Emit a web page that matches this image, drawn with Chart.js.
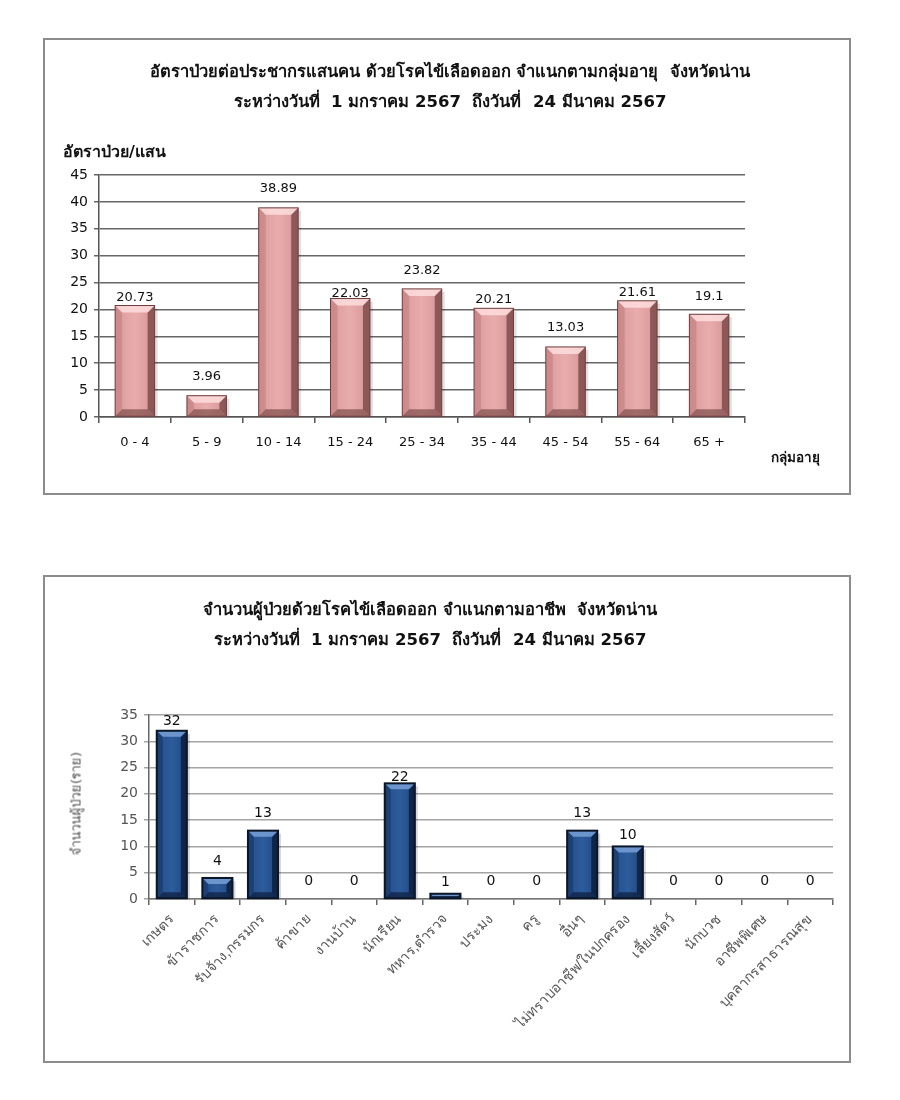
<!DOCTYPE html>
<html><head><meta charset="utf-8">
<script src="https://cdn.jsdelivr.net/npm/chart.js@4.4.1/dist/chart.umd.min.js"></script>
<style>
html,body{margin:0;padding:0;background:#fff;}
body{width:900px;height:1100px;position:relative;overflow:hidden;font-family:Tahoma,"DejaVu Sans","Noto Sans",sans-serif;}
.panel{position:absolute;box-sizing:border-box;border:2px solid #8c8c8c;background:#fff;}
.cv{position:absolute;}
.title{position:absolute;left:43px;width:808px;text-align:center;font-size:16.5px;font-weight:bold;color:#111;line-height:30px;}
.lbl{position:absolute;font-weight:bold;color:#111;white-space:nowrap;}
.ytitle{position:absolute;font-size:13px;font-weight:normal;color:#555;white-space:nowrap;transform:rotate(-90deg);transform-origin:center center;}
</style>
</head><body>
<div class="panel" style="left:43px;top:38px;width:808px;height:457px;"></div>
<div class="panel" style="left:43px;top:575px;width:808px;height:488px;"></div>

<canvas id="c1" class="cv" width="803" height="452" style="left:45px;top:40px;"></canvas>
<canvas id="c2" class="cv" width="803" height="483" style="left:45px;top:577px;"></canvas>

<div class="title" style="top:57px;left:46px;">อัตราป่วยต่อประชากรแสนคน ด้วยโรคไข้เลือดออก จำแนกตามกลุ่มอายุ&nbsp; จังหวัดน่าน<br>ระหว่างวันที่&nbsp; 1 มกราคม 2567&nbsp; ถึงวันที่&nbsp; 24 มีนาคม 2567</div>
<div class="lbl" style="left:63px;top:139px;font-size:16px;">อัตราป่วย/แสน</div>
<div class="lbl" style="left:771px;top:446px;font-size:13.5px;">กลุ่มอายุ</div>

<div class="title" style="top:595px;left:26px;">จำนวนผู้ป่วยด้วยโรคไข้เลือดออก จำแนกตามอาชีพ&nbsp; จังหวัดน่าน<br>ระหว่างวันที่&nbsp; 1 มกราคม 2567&nbsp; ถึงวันที่&nbsp; 24 มีนาคม 2567</div>
<div class="ytitle" style="left:16px;top:793px;width:120px;text-align:center;">จำนวนผู้ป่วย(ราย)</div>

<script>
// ---- data ----
const ageGroups = ['0 - 4','5 - 9','10 - 14','15 - 24','25 - 34','35 - 44','45 - 54','55 - 64','65 +'];
const ageRates = [20.73, 3.96, 38.89, 22.03, 23.82, 20.21, 13.03, 21.61, 19.1];
const ageRateLabels = ['20.73','3.96','38.89','22.03','23.82','20.21','13.03','21.61','19.1'];

const occupations = ['เกษตร','ข้าราชการ','รับจ้าง,กรรมกร','ค้าขาย','งานบ้าน','นักเรียน','ทหาร,ตำรวจ','ประมง','ครู','อื่นๆ','ไม่ทราบอาชีพ/ในปกครอง','เลี้ยงสัตว์','นักบวช','อาชีพพิเศษ','บุคลากรสาธารณสุข'];
const occupationCounts = [32, 4, 13, 0, 0, 22, 1, 0, 0, 13, 10, 0, 0, 0, 0];

// label gaps above bars (style only)
const ageLabelGap = [8, 19, 19, 5, 18, 9, 19, 8, 18];
const occLabelGap = [9, 17, 17, 18, 18, 6, 11, 18, 18, 17, 11, 18, 18, 18, 18];

const NUMFONT = '"DejaVu Sans", Tahoma, sans-serif';

const bevelPlugin = {
  id: 'bevel',
  afterDatasetsDraw(chart) {
    const o = chart.options.plugins.bevel;
    if (!o || !o.size) return;
    const ctx = chart.ctx;
    chart.getDatasetMeta(0).data.forEach(bar => {
      const p = bar.getProps(['x','y','base','width'], true);
      if (![p.x,p.y,p.base,p.width].every(Number.isFinite)) return;
      const h = p.base - p.y;
      if (h <= 0.5) return;
      const l = p.x - p.width/2, r = p.x + p.width/2, t = p.y, bt = p.base;
      const b = Math.min(o.size, h/2, p.width/2);
      ctx.save();
      ctx.fillStyle = o.shadow;
      ctx.fillRect(r, t+3, 3, h-3);
      const g = ctx.createLinearGradient(l, 0, r, 0);
      g.addColorStop(0, o.face[0]); g.addColorStop(0.5, o.face[1]); g.addColorStop(1, o.face[2]);
      ctx.fillStyle = g; ctx.fillRect(l, t, p.width, h);
      const poly = (pts, fill) => {
        ctx.beginPath(); ctx.moveTo(pts[0][0], pts[0][1]);
        for (let i=1;i<pts.length;i++) ctx.lineTo(pts[i][0], pts[i][1]);
        ctx.closePath(); ctx.fillStyle = fill; ctx.fill();
      };
      poly([[l,t],[l+b,t+b],[l+b,bt-b],[l,bt]], o.left);
      poly([[r,t],[r-b,t+b],[r-b,bt-b],[r,bt]], o.right);
      poly([[l,bt],[l+b,bt-b],[r-b,bt-b],[r,bt]], o.bottom);
      poly([[l,t],[r,t],[r-b,t+b],[l+b,t+b]], o.top);
      ctx.strokeStyle = o.border; ctx.lineWidth = o.borderWidth;
      ctx.strokeRect(l, t, p.width, h);
      ctx.restore();
    });
  }
};

const valuePlugin = {
  id: 'values',
  afterDatasetsDraw(chart) {
    const o = chart.options.plugins.values;
    if (!o || !o.labels) return;
    const ctx = chart.ctx;
    ctx.save();
    ctx.font = o.font; ctx.fillStyle = o.color;
    ctx.textAlign = 'center'; ctx.textBaseline = 'middle';
    chart.getDatasetMeta(0).data.forEach((bar, i) => {
      const p = bar.getProps(['x','y'], true);
      ctx.fillText(o.labels[i], p.x, p.y - o.gaps[i]);
    });
    ctx.restore();
  }
};

Chart.register(bevelPlugin, valuePlugin);

// ---- chart 1 ----
new Chart(document.getElementById('c1'), {
  type: 'bar',
  data: { labels: ageGroups, datasets: [{ data: ageRates,
    backgroundColor: 'rgba(0,0,0,0)',
    borderWidth: 0, barPercentage: 0.55, categoryPercentage: 1 }] },
  options: {
    responsive: false, animation: false, devicePixelRatio: 1,
    layout: { padding: { left: 0, right: 103, top: 135, bottom: 0 } },
    plugins: {
      legend: { display: false }, tooltip: { enabled: false },
      bevel: { size: 7, face: ['#DA9A9A', '#E9ACAC', '#D49494'], top: 'rgba(255,225,225,0.8)', left: 'rgba(190,120,120,0.5)', right: 'rgba(110,60,60,0.7)', bottom: 'rgba(120,70,70,0.65)', border: '#6e3c3c', borderWidth: 1, shadow: 'rgba(0,0,0,0.12)' },
      values: { labels: ageRateLabels, gaps: ageLabelGap, font: '13px ' + NUMFONT, color: '#111' }
    },
    scales: {
      x: {
        grid: { offset: true, drawOnChartArea: false, drawTicks: true, tickLength: 6, color: '#555', lineWidth: 1.5 },
        border: { display: true, color: '#555', width: 1.5 },
        ticks: { color: '#111', font: { family: NUMFONT, size: 13 }, padding: 12, maxRotation: 0 },
        afterFit: (s) => { s.height = 75; }
      },
      y: {
        min: 0, max: 45,
        grid: { color: '#666', lineWidth: 1.5, drawTicks: true, tickLength: 5 },
        border: { display: true, color: '#555', width: 1.5 },
        ticks: { stepSize: 5, color: '#111', font: { family: NUMFONT, size: 14 }, padding: 6 },
        afterFit: (s) => { s.width = 54; }
      }
    }
  }
});

// ---- chart 2 ----
new Chart(document.getElementById('c2'), {
  type: 'bar',
  data: { labels: occupations, datasets: [{ data: occupationCounts,
    backgroundColor: 'rgba(0,0,0,0)',
    borderWidth: 0, barPercentage: 0.66, categoryPercentage: 1 }] },
  options: {
    responsive: false, animation: false, devicePixelRatio: 1,
    layout: { padding: { left: 0, right: 15, top: 138, bottom: 0 } },
    plugins: {
      legend: { display: false }, tooltip: { enabled: false },
      bevel: { size: 6, face: ['#224E8A', '#2D5C9C', '#1F4882'], top: 'rgba(120,160,215,0.85)', left: 'rgba(20,45,85,0.45)', right: 'rgba(8,20,45,0.7)', bottom: 'rgba(10,25,55,0.65)', border: '#0b1526', borderWidth: 2, shadow: 'rgba(0,0,0,0.15)' },
      values: { labels: occupationCounts.map(String), gaps: occLabelGap, font: '14px ' + NUMFONT, color: '#111' }
    },
    scales: {
      x: {
        grid: { offset: true, drawOnChartArea: false, drawTicks: true, tickLength: 6, color: '#666', lineWidth: 1.5 },
        border: { display: true, color: '#777', width: 1.5 },
        ticks: { color: '#555', font: { size: 14 }, padding: 6, minRotation: 45, maxRotation: 45, autoSkip: false },
        afterFit: (s) => { s.height = 161; }
      },
      y: {
        min: 0, max: 35,
        grid: { color: '#a4a4a4', lineWidth: 1.5, drawTicks: true, tickLength: 5 },
        border: { display: true, color: '#666', width: 1.5 },
        ticks: { stepSize: 5, color: '#555', font: { family: NUMFONT, size: 14 }, padding: 6 },
        afterFit: (s) => { s.width = 104; }
      }
    }
  }
});
</script>
</body></html>
